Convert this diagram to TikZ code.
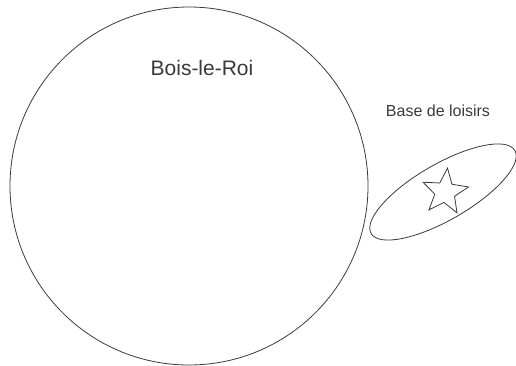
\documentclass[tikz,border=0pt]{standalone}
\usepackage{fontspec}
\setmainfont{Liberation Sans}
\usetikzlibrary{shapes.geometric}
\definecolor{ink}{HTML}{3A3A3A}
\tikzset{
  outline/.style={draw=ink, line width=0.8pt},
  lbl/.style={text=ink, inner sep=0pt}
}
\begin{document}
\begin{tikzpicture}[x=1pt,y=-1pt]
\useasboundingbox (0,0) rectangle (516,365);
\node[outline, circle, minimum size=358pt, inner sep=0pt] (town) at (189,186) {};
\node[lbl, font=\fontsize{21}{25}\selectfont] (townlbl) at (202,68) {Bois-le-Roi};
\node[outline, ellipse, minimum width=166pt, minimum height=56pt, inner sep=0pt, rotate=30] (base) at (443,192) {};
\node[outline, star, star points=5, star point ratio=2.3, minimum size=48pt, inner sep=0pt, rotate=-6] (mark) at (445,192) {};
\node[lbl, font=\fontsize{16}{19}\selectfont] (baselbl) at (438,111) {Base de loisirs};
\end{tikzpicture}
\end{document}
